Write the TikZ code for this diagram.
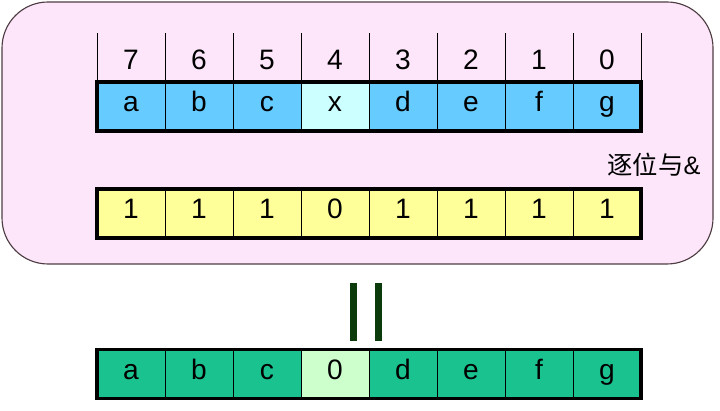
\documentclass[tikz,border=0pt]{standalone}
\usepackage{fontspec}
\setmainfont{Liberation Sans}
\newfontfamily\cjk{Noto Sans CJK SC}
\definecolor{bgpink}{HTML}{FDE6FA}
\definecolor{bitblue}{HTML}{66CCFF}
\definecolor{bitcyan}{HTML}{CCFFFF}
\definecolor{maskyellow}{HTML}{FFFF99}
\definecolor{resgreen}{HTML}{19C28F}
\definecolor{reslight}{HTML}{CCFFCC}
\definecolor{eqgreen}{HTML}{0B3A0B}
\tikzset{
  cell/.style={draw=black, line width=0.6pt, minimum width=1.7cm, minimum height=1.225cm,
    inner sep=0pt, outer sep=0pt, text height=0.72em, text depth=0pt,
    font=\fontsize{20}{22}\selectfont},
  rowframe/.style={draw=black, line width=2.2pt},
}
\begin{document}
\begin{tikzpicture}[x=0.025cm,y=-0.025cm]
            \useasboundingbox (0,0) rectangle (720,411);
            \draw[fill=bgpink, draw=black!80!magenta, line width=0.8pt, rounded corners=1.15cm] (2,2) rectangle (713,264);

            % bit numbers and value bits
            \foreach \t/\v [count=\i from 0] in {7/a,6/b,5/c,4/x,3/d,2/e,1/f,0/g}{
                \node[cell, fill=bitblue] (b\i) at (131+68*\i,106.5) {\v};
                \node[font=\fontsize{20}{22}\selectfont, anchor=base, inner sep=0pt] (h\i) at (131+68*\i,70) {\t};
                \draw[line width=0.6pt] (b\i.north west) -- ++(0,-49);
            }
            \draw[line width=0.6pt] (b7.north east) -- ++(0,-49);
            \node[cell, fill=bitcyan] (b3) at (131+68*3,106.5) {x};
            \draw[rowframe] (b0.north west) rectangle (b7.south east);

            \node[font=\fontsize{18}{20}\selectfont] (op) at (654,165) {{\cjk 逐位与}\&};

            % mask
            \foreach \m [count=\i from 0] in {1,1,1,0,1,1,1,1}{
                \node[cell, fill=maskyellow] (m\i) at (131+68*\i,213.5) {\m};
            }
            \draw[rowframe] (m0.north west) rectangle (m7.south east);

            % equals
            \fill[eqgreen] (350,283) rectangle (357,341);
            \fill[eqgreen] (375,283) rectangle (382,341);

            % result
            \foreach \v [count=\i from 0] in {a,b,c,0,d,e,f,g}{
                \node[cell, fill=resgreen] (r\i) at (131+68*\i,374) {\v};
            }
            \node[cell, fill=reslight] (r3) at (131+68*3,374) {0};
            \draw[rowframe] (r0.north west) rectangle (r7.south east);
        \end{tikzpicture}
\end{document}
